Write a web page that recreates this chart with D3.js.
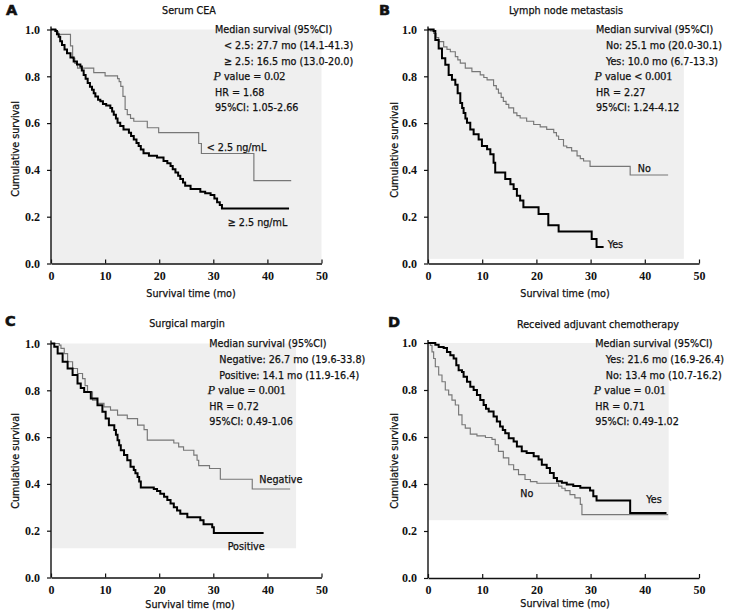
<!DOCTYPE html>
<html><head><meta charset="utf-8">
<script src="https://cdn.jsdelivr.net/npm/d3@7"></script>
<style>
body{margin:0;background:#fff;}
svg text{font-family:"DejaVu Sans Condensed","DejaVu Sans",sans-serif;font-stretch:condensed;fill:#111;stroke:#111;stroke-width:0.25px;}
.tick text{font-family:"Liberation Serif","Times New Roman",serif;font-weight:bold;font-size:12px;font-stretch:normal;stroke:none;}
</style></head>
<body>
<svg id="chart" width="734" height="611"></svg>
<script>
// ---- data: Kaplan-Meier step points [time (mo), survival after that time]
const xTicks = [0, 10, 20, 30, 40, 50];
const yTicks = [0, 0.2, 0.4, 0.6, 0.8, 1.0];

const ceaLow = [[0,1],[1.0,0.99],[1.4,0.979],[3.6,0.93],[4.0,0.877],[4.4,0.855],[4.9,0.835],[7.9,0.816],[10.0,0.802],[12.3,0.79],[12.6,0.777],[12.9,0.757],[13.3,0.714],[13.7,0.658],[14.1,0.636],[14.7,0.62],[15.3,0.608],[17.8,0.58],[19.9,0.559],[27.3,0.513],[27.8,0.47],[37.5,0.354],[44.4,0.354]];
const ceaHigh = [[0,1],[0.8,0.994],[1.1,0.98],[1.42,0.969],[1.7,0.95],[2.03,0.934],[2.5,0.915],[2.96,0.898],[3.6,0.88],[4.19,0.863],[4.8,0.85],[5.43,0.842],[5.7,0.825],[6.04,0.806],[6.4,0.79],[6.78,0.771],[7.2,0.755],[7.58,0.743],[7.9,0.728],[8.2,0.714],[8.7,0.70],[9.12,0.693],[9.6,0.682],[10.2,0.675],[10.97,0.665],[11.3,0.65],[11.6,0.636],[12.0,0.62],[12.3,0.601],[12.8,0.588],[13.4,0.573],[14.4,0.559],[14.8,0.545],[15.3,0.530],[15.8,0.515],[16.2,0.502],[16.6,0.487],[17.1,0.471],[18.1,0.460],[19.6,0.453],[20.8,0.438],[21.5,0.428],[22.1,0.417],[22.5,0.403],[23.0,0.389],[23.5,0.375],[23.9,0.361],[24.4,0.346],[24.8,0.332],[25.8,0.318],[27.6,0.307],[28.5,0.30],[29.5,0.293],[30.2,0.278],[30.7,0.262],[31.2,0.25],[31.6,0.235],[44.0,0.235]];

const lnNo = [[0,1],[0.43,0.994],[1.04,0.983],[1.5,0.965],[1.97,0.948],[2.89,0.926],[3.5,0.915],[4.12,0.905],[5.04,0.884],[5.5,0.87],[5.96,0.856],[6.88,0.835],[8.1,0.820],[9.64,0.806],[10.3,0.795],[10.9,0.785],[12.1,0.760],[12.6,0.745],[13.0,0.728],[13.5,0.71],[13.9,0.693],[14.4,0.68],[14.9,0.665],[15.8,0.644],[16.4,0.632],[17.0,0.622],[18.2,0.608],[19.5,0.594],[20.7,0.584],[21.9,0.573],[23.2,0.559],[23.7,0.545],[24.1,0.530],[25.0,0.502],[25.6,0.495],[26.5,0.481],[27.5,0.460],[28.1,0.448],[28.7,0.438],[29.9,0.415],[37.3,0.378],[44.3,0.378]];
const lnYes = [[0,1],[1.04,0.994],[1.35,0.955],[1.97,0.919],[2.58,0.877],[3.19,0.849],[3.81,0.806],[4.42,0.785],[5.04,0.764],[5.47,0.728],[5.96,0.686],[6.3,0.665],[6.57,0.643],[6.9,0.62],[7.19,0.601],[7.8,0.573],[8.42,0.552],[9.34,0.530],[9.95,0.502],[10.9,0.488],[11.5,0.467],[12.1,0.431],[12.4,0.389],[14.25,0.361],[15.2,0.339],[15.8,0.318],[16.4,0.290],[17.0,0.269],[17.6,0.240],[20.4,0.212],[22.2,0.163],[24.1,0.137],[30.2,0.105],[31.1,0.071],[32.4,0.071]];

const marginNeg = [[0,1],[1.53,0.993],[1.84,0.979],[2.45,0.957],[3.07,0.922],[3.99,0.893],[4.9,0.872],[5.83,0.850],[6.3,0.82],[6.75,0.793],[7.67,0.758],[8.59,0.744],[9.8,0.729],[11.0,0.715],[12.3,0.694],[14.1,0.679],[16.0,0.651],[17.2,0.632],[17.8,0.587],[22.7,0.575],[23.6,0.558],[24.5,0.544],[26.4,0.523],[27.0,0.501],[27.3,0.478],[29.3,0.466],[31.3,0.42],[37.2,0.378],[44.2,0.378]];
const marginPos = [[0,1],[0.61,0.986],[1.23,0.957],[2.15,0.922],[3.07,0.893],[3.99,0.865],[4.9,0.829],[5.5,0.81],[6.13,0.793],[7.36,0.765],[8.59,0.736],[9.5,0.708],[10.1,0.680],[10.7,0.651],[11.7,0.630],[12.0,0.61],[12.3,0.587],[12.6,0.565],[12.9,0.544],[13.5,0.523],[14.1,0.501],[14.7,0.473],[15.3,0.459],[15.6,0.445],[16.0,0.430],[16.3,0.41],[16.6,0.385],[19.0,0.378],[19.6,0.37],[20.2,0.358],[20.9,0.345],[21.5,0.331],[22.1,0.316],[22.7,0.30],[23.3,0.286],[23.9,0.272],[25.2,0.258],[27.6,0.245],[28.2,0.228],[29.8,0.215],[30.1,0.19],[39.3,0.19]];

const chemoYes = [[0,1],[1.35,0.993],[1.97,0.983],[2.89,0.979],[3.5,0.962],[4.12,0.948],[4.73,0.934],[5.22,0.905],[5.65,0.884],[6.27,0.877],[6.57,0.856],[7.19,0.835],[7.8,0.814],[8.42,0.800],[9.03,0.779],[9.64,0.757],[10.26,0.736],[10.7,0.72],[11.2,0.708],[12.1,0.687],[12.7,0.666],[13.3,0.645],[13.8,0.63],[14.25,0.616],[14.9,0.595],[15.8,0.581],[16.4,0.560],[17.3,0.539],[18.2,0.532],[19.5,0.518],[20.4,0.504],[21.0,0.482],[21.9,0.468],[22.5,0.447],[23.2,0.426],[23.8,0.412],[24.7,0.405],[25.6,0.398],[26.8,0.391],[28.1,0.384],[29.9,0.372],[30.5,0.348],[31.1,0.330],[37.3,0.277],[44.0,0.277]];
const chemoNo = [[0,1],[0.43,0.990],[0.74,0.962],[1.04,0.934],[1.35,0.899],[1.97,0.864],[2.58,0.835],[3.19,0.800],[3.81,0.779],[4.42,0.757],[5.04,0.736],[5.65,0.694],[6.27,0.652],[6.88,0.638],[7.8,0.612],[9.03,0.605],[10.6,0.598],[11.8,0.590],[12.4,0.567],[13.0,0.539],[13.9,0.511],[14.9,0.482],[15.8,0.461],[16.7,0.440],[17.9,0.419],[18.9,0.410],[20.1,0.403],[24.1,0.391],[24.7,0.382],[25.3,0.372],[26.2,0.355],[27.1,0.341],[28.1,0.313],[28.4,0.27],[44.3,0.27]];

// annotation texts
const titles = ["Serum CEA", "Lymph node metastasis", "Surgical margin", "Received adjuvant chemotherapy"];
const letters = ["A", "B", "C", "D"];
const medianHeads = ["Median survival (95%CI)", "Median survival (95%CI)", "Median survival (95%CI)", "Median survival (95%CI)"];
const medianRows = [
  ["< 2.5: 27.7 mo (14.1-41.3)", "\u2265 2.5: 16.5 mo (13.0-20.0)"],
  ["No: 25.1 mo (20.0-30.1)", "Yes: 10.0 mo (6.7-13.3)"],
  ["Negative: 26.7 mo (19.6-33.8)", "Positive: 14.1 mo (11.9-16.4)"],
  ["Yes: 21.6 mo (16.9-26.4)", "No: 13.4 mo (10.7-16.2)"]
];
const pValues = [" value = 0.02", " value < 0.001", " value = 0.001", " value = 0.01"];
const hrValues = ["HR = 1.68", "HR = 2.27", "HR = 0.72", "HR = 0.71"];
const ciValues = ["95%CI: 1.05-2.66", "95%CI: 1.24-4.12", "95%CI: 0.49-1.06", "95%CI: 0.49-1.02"];
const curveNames = [["< 2.5 ng/mL", "\u2265 2.5 ng/mL"], ["No", "Yes"], ["Negative", "Positive"], ["No", "Yes"]];
const seriesData = [[ceaLow, ceaHigh], [lnNo, lnYes], [marginNeg, marginPos], [chemoNo, chemoYes]];
// grey shaded area [xmax, ymin] per panel
const shadeX = [50, 47.2, 45.3, 44.4];
const shadeY = [0, 0.02, 0.125, 0.246];

// ---- layout
const panels = [
  {x0:51, x1:321.5, y0:263.5, y1:29.5, lx:6, ly:15, tx:189, ty:14, ax:215, ay:33.3, ind:9,
   labels:[[206.7,150.7],[227.7,225.7]], xl:[191,297], yl:[18.6,149]},
  {x0:428, x1:699, y0:263.5, y1:29.5, lx:379, ly:15, tx:566, ty:14, ax:596, ay:33.3, ind:10,
   labels:[[637.7,172.3],[607.7,248]], xl:[565,297], yl:[397.6,150]},
  {x0:51, x1:321.5, y0:577.5, y1:343.5, lx:5, ly:326, tx:187, ty:327, ax:209.3, ay:347.3, ind:10,
   labels:[[259.3,483],[227.7,549.7]], xl:[190,608], yl:[18.6,461]},
  {x0:428, x1:699, y0:578, y1:343, lx:388, ly:327, tx:598, ty:328, ax:595.3, ay:347.3, ind:10.5,
   labels:[[520.3,497.3],[646.3,503.3]], xl:[565,607], yl:[397.6,461]}
];
const lineH = 15.6;
const fs = 10.7;

const svg = d3.select("#chart");

panels.forEach((p, i) => {
  const g = svg.append("g");
  const x = d3.scaleLinear().domain([0, 50]).range([p.x0, p.x1]);
  const y = d3.scaleLinear().domain([0, 1]).range([p.y0, p.y1]);

  // shaded background
  g.append("rect")
    .attr("x", x(0)).attr("y", y(1))
    .attr("width", x(shadeX[i]) - x(0))
    .attr("height", y(shadeY[i]) - y(1))
    .attr("fill", "#efefef");

  // axes
  const ya = d3.axisLeft(y).tickValues(yTicks).tickFormat(d3.format(".1f")).tickSize(4).tickSizeOuter(0).tickPadding(7);
  const yg = g.append("g").attr("transform", `translate(${p.x0},0)`).call(ya);
  yg.select(".domain").attr("d", `M0,${y(1)-3}V${y(0)}`);
  const xa = d3.axisBottom(x).tickValues(xTicks).tickFormat(d3.format("d")).tickSize(-4).tickSizeOuter(0).tickPadding(7);
  const xg = g.append("g").attr("transform", `translate(0,${p.y0})`).call(xa);
  g.selectAll(".domain").attr("stroke", "#111").attr("stroke-width", 1.4);
  g.selectAll(".tick line").attr("stroke", "#111").attr("stroke-width", 1.2);
  g.selectAll(".tick text").attr("fill", "#1a1a1a");
  xg.selectAll(".tick text").attr("dy", "0.75em");

  // curves
  const line = d3.line().x(d => x(d[0])).y(d => y(d[1])).curve(d3.curveStepAfter);
  const [greyS, blackS] = seriesData[i];
  g.append("path").datum(greyS).attr("d", line)
    .attr("fill", "none").attr("stroke", "#777").attr("stroke-width", 1.15);
  g.append("path").datum(blackS).attr("d", line)
    .attr("fill", "none").attr("stroke", "#000").attr("stroke-width", 2);

  // curve labels
  curveNames[i].forEach((nm, k) => {
    g.append("text").attr("x", p.labels[k][0]).attr("y", p.labels[k][1])
      .attr("font-size", fs).text(nm);
  });

  // letter, title
  g.append("text").attr("x", p.lx).attr("y", p.ly).attr("font-size", 14.5)
    .attr("font-weight", "bold").style("font-family", "'DejaVu Sans',sans-serif").style("font-stretch","normal")
    .style("stroke-width", "0.6px").text(letters[i]);
  g.append("text").attr("x", p.tx).attr("y", p.ty).attr("text-anchor", "middle")
    .attr("font-size", fs).text(titles[i]);

  // axis titles
  g.append("text").attr("x", p.xl[0]).attr("y", p.xl[1]).attr("text-anchor", "middle")
    .attr("font-size", fs).text("Survival time (mo)");
  g.append("text").attr("transform", `translate(${p.yl[0]},${p.yl[1]}) rotate(-90)`)
    .attr("text-anchor", "middle").attr("font-size", fs).text("Cumulative survival");

  // annotation block
  const a = g.append("g").attr("font-size", fs);
  a.append("text").attr("x", p.ax).attr("y", p.ay).text(medianHeads[i]);
  medianRows[i].forEach((r, k) => {
    a.append("text").attr("x", p.ax + p.ind).attr("y", p.ay + lineH * (k + 1)).text(r);
  });
  const pt = a.append("text").attr("x", p.ax - 1.5).attr("y", p.ay + lineH * 3);
  pt.append("tspan").attr("font-style", "italic").style("font-family", "'Liberation Serif',serif").style("font-size","12px").text("P");
  const pv = pValues[i];
  const cut = pv.search(/[0-9]/);
  pt.append("tspan").text(pv.slice(0, cut));
  pt.append("tspan").style("font-family", "'Liberation Serif',serif").style("font-size","12px").text(pv.slice(cut));
  a.append("text").attr("x", p.ax).attr("y", p.ay + lineH * 4).text(hrValues[i]);
  a.append("text").attr("x", p.ax).attr("y", p.ay + lineH * 5).text(ciValues[i]);
});
</script>
</body></html>
